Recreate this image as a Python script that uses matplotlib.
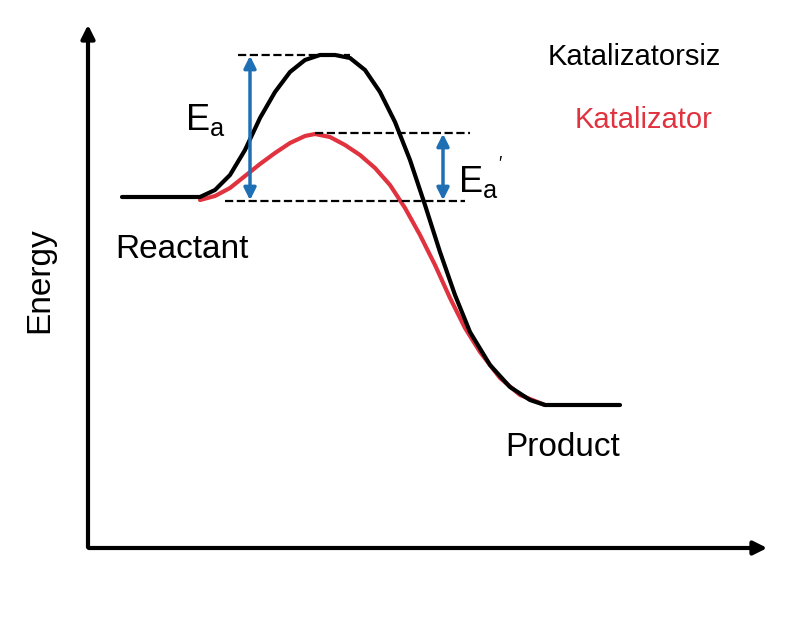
import numpy as np
import matplotlib.pyplot as plt

plt.rcParams['font.family'] = ['Liberation Sans', 'DejaVu Sans']
plt.rcParams['mathtext.fontset'] = 'custom'
plt.rcParams['mathtext.rm'] = 'Liberation Sans'

# curve points in image pixel coordinates (x, y downward)
black_x = [122, 200, 215, 230, 245, 260, 275, 290, 305, 320, 335, 350, 365, 380, 395, 410, 425, 440, 455, 470, 490, 510, 530, 545, 620]
black_y = [197, 197, 190, 175, 150, 118, 92, 72, 60, 55, 55, 58, 70, 92, 122, 160, 205, 252, 295, 332, 365, 387, 400, 405, 405]
red_x = [200, 215, 230, 245, 260, 275, 290, 305, 315, 330, 345, 360, 375, 390, 405, 420, 435, 450, 465, 480, 500, 520, 545]
red_y = [200, 196, 188, 176, 164, 153, 143, 136, 134, 137, 145, 155, 168, 185, 208, 235, 265, 298, 328, 352, 378, 395, 405]

fig = plt.figure(figsize=(8, 6.43), dpi=100)
ax = fig.add_axes([0, 0, 1, 1])
ax.set_xlim(0, 800)
ax.set_ylim(643, 0)
ax.axis('off')

# axes arrows
ax.annotate('', xy=(88, 22), xytext=(88, 550),
            arrowprops=dict(arrowstyle='-|>', lw=3, color='black', mutation_scale=20))
ax.annotate('', xy=(770, 548), xytext=(86, 548),
            arrowprops=dict(arrowstyle='-|>', lw=3, color='black', mutation_scale=20))

ax.plot(red_x, red_y, color='#e0333f', lw=3, solid_capstyle='round')
ax.plot(black_x, black_y, color='black', lw=3, solid_capstyle='round')

# dashed reference levels
ax.plot([238, 350], [55, 55], 'k--', lw=1.6)
ax.plot([315, 470], [133, 133], 'k--', lw=1.6)
ax.plot([225, 465], [201, 201], 'k--', lw=1.6)

blue = '#1f6fb5'
ax.annotate('', xy=(250, 53), xytext=(250, 203),
            arrowprops=dict(arrowstyle='<|-|>', lw=2.5, color=blue, mutation_scale=18))
ax.annotate('', xy=(443, 131), xytext=(443, 203),
            arrowprops=dict(arrowstyle='<|-|>', lw=2.5, color=blue, mutation_scale=18))

ax.text(185, 120, r'E$_\mathregular{a}$', fontsize=26, va='center')
ax.text(458, 178, r"E$_\mathregular{a}$$^{'}$", fontsize=26, va='center')
ax.text(115, 250, 'Reactant', fontsize=24, va='center')
ax.text(505, 447, 'Product', fontsize=24, va='center')
ax.text(40, 280, 'Energy', fontsize=24, rotation=90, va='center', ha='center')
ax.text(548, 57, 'Katalizatorsiz', fontsize=21, va='center')
ax.text(575, 120, 'Katalizator', fontsize=21, va='center', color='#e0333f')

fig.savefig('out.png')
